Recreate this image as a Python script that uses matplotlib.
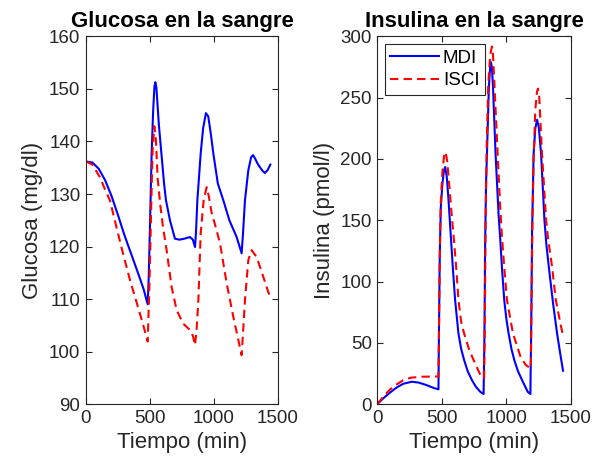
import matplotlib
matplotlib.use('Agg')
import matplotlib.pyplot as plt

plt.rcParams['font.family'] = ['Liberation Sans', 'DejaVu Sans']

# Glucose, MDI (blue)
t_glu_mdi = [0, 50, 100, 150, 200, 250, 300, 350, 400, 450, 482, 490, 500, 513, 525,
             535, 542, 550, 570, 590, 610, 625, 656, 695, 730, 770, 812, 835, 852,
             860, 870, 878, 896, 915, 937, 955, 975, 995, 1030, 1073, 1120, 1177,
             1216, 1228, 1242, 1268, 1290, 1305, 1320, 1340, 1359, 1380, 1398, 1420, 1440]
glu_mdi = [136.2, 136.0, 134.8, 132.6, 129.6, 126.0, 122.2, 118.8, 115.4, 111.9, 109.0,
           114.0, 124.0, 137.7, 146.0, 150.5, 151.3, 150.3, 143.0, 137.5, 132.0, 128.8,
           125.0, 121.5, 121.3, 121.5, 121.8, 121.3, 119.9, 123.0, 128.8, 131.5, 137.7,
           142.5, 145.4, 144.8, 141.5, 137.7, 132.0, 128.8, 125.0, 121.8, 118.7, 123.0,
           128.8, 134.5, 137.0, 137.4, 136.8, 135.8, 135.1, 134.4, 134.0, 134.6, 135.6]

# Glucose, ISCI (red)
t_glu_isci = [0, 50, 109, 150, 187, 230, 290, 344, 400, 450, 482, 495, 510, 520, 534,
              545, 560, 580, 600, 630, 669, 708, 760, 812, 835, 852, 865, 878, 896,
              920, 943, 960, 981, 1010, 1047, 1099, 1151, 1190, 1216, 1228, 1242,
              1268, 1294, 1333, 1372, 1411, 1440]
glu_isci = [136.2, 135.6, 133.2, 130.8, 128.8, 124.5, 118.6, 113.6, 109.0, 104.8, 101.9,
            112.0, 128.0, 138.0, 142.9, 141.0, 133.0, 128.0, 124.0, 119.3, 112.3, 107.9,
            105.3, 104.1, 103.0, 101.2, 104.5, 109.8, 122.5, 129.0, 131.3, 129.5, 126.5,
            124.0, 120.6, 113.0, 106.6, 102.2, 99.3, 104.0, 109.8, 117.4, 119.3, 118.0,
            115.2, 112.3, 110.2]

# Insulin, MDI (blue)
t_ins_mdi = [0, 50, 100, 150, 200, 267, 320, 380, 440, 474, 478, 484, 492, 505, 516, 526,
             538, 551, 565, 585, 603, 629, 650, 673, 700, 733, 765, 798, 824, 830, 836,
             843, 850, 865, 875, 881, 889, 897, 917, 940, 953, 966, 984, 1000, 1018,
             1040, 1062, 1090, 1122, 1166, 1187, 1193, 1200, 1212, 1225, 1239, 1252,
             1270, 1296, 1311, 1334, 1363, 1394, 1420, 1440]
ins_mdi = [0, 5.0, 9.5, 13.5, 16.5, 18.2, 17.5, 15.5, 13.0, 12.0, 60, 120, 160, 180, 190,
           193.5, 186, 168, 145, 112, 85, 57.6, 45, 35.9, 27, 19.6, 14, 10.0, 8.2, 50,
           130, 180, 204, 258.7, 275, 279, 274, 258.7, 204, 155, 135, 112, 85, 70, 57.6,
           45, 35.9, 27, 19.6, 10.0, 8.2, 60, 140, 204, 225, 232, 226, 204, 150, 130,
           108, 82, 57.6, 40, 27.2]

# Insulin, ISCI (red)
t_ins_isci = [0, 50, 100, 150, 200, 260, 350, 474, 478, 484, 492, 505, 518, 530, 542,
              559, 580, 590, 611, 629, 650, 673, 710, 746, 798, 811, 828, 834, 840,
              848, 860, 875, 889, 897, 909, 933, 953, 966, 984, 1005, 1052, 1109, 1150,
              1190, 1196, 1203, 1212, 1225, 1238, 1246, 1256, 1277, 1309, 1324, 1355,
              1384, 1425, 1440]
ins_isci = [0, 6.5, 12.0, 16.0, 19.4, 21.5, 22.3, 22.5, 60, 120, 165, 190, 203, 205.7, 198,
            177, 150, 139, 112, 85, 67, 57.6, 45, 36, 24, 22, 21, 70, 150, 210, 260, 285,
            291.8, 285, 258.7, 204, 160, 137, 112, 85, 57.6, 39, 32, 29, 80, 150, 200,
            240, 255, 257.4, 250, 204, 150, 135, 112, 85, 63, 56]

dark = '#262626'
fig = plt.figure(figsize=(6.05, 4.66), dpi=100)
ax1 = fig.add_axes([0.1421, 0.133, 0.3174, 0.7887])
ax2 = fig.add_axes([0.6237, 0.133, 0.3197, 0.7887])

dash = (0, (4, 2.5))
ax1.plot(t_glu_mdi, glu_mdi, color='blue', lw=1.5, label='MDI')
ax1.plot(t_glu_isci, glu_isci, color='red', lw=1.5, ls=dash, label='ISCI')
ax1.set_xlim(0, 1500)
ax1.set_ylim(90, 160)
ax1.set_xticks([0, 500, 1000, 1500])
ax1.set_yticks(range(90, 161, 10))
ax1.set_xlabel('Tiempo (min)', fontsize=16, color=dark)
ax1.set_ylabel('Glucosa (mg/dl)', fontsize=16, color=dark)
ax1.set_title('Glucosa en la sangre', fontsize=16, fontweight='bold', pad=7)

ax2.plot(t_ins_mdi, ins_mdi, color='blue', lw=1.5, label='MDI')
ax2.plot(t_ins_isci, ins_isci, color='red', lw=1.5, ls=dash, label='ISCI')
ax2.set_xlim(0, 1500)
ax2.set_ylim(0, 300)
ax2.set_xticks([0, 500, 1000, 1500])
ax2.set_yticks(range(0, 301, 50))
ax2.set_xlabel('Tiempo (min)', fontsize=16, color=dark)
ax2.set_ylabel('Insulina (pmol/l)', fontsize=16, color=dark)
ax2.set_title('Insulina en la sangre', fontsize=16, fontweight='bold', pad=7)
leg = ax2.legend(loc='upper left', fontsize=13.5, fancybox=False, framealpha=1,
                 edgecolor=dark, handlelength=2.6, borderaxespad=0.4,
                 handletextpad=0.2, labelspacing=0.3, borderpad=0.3)
leg.get_frame().set_linewidth(0.8)

for ax in (ax1, ax2):
    ax.tick_params(direction='in', top=True, right=True, length=4, width=0.8,
                   labelsize=13.5, colors=dark, pad=4)
    for sp in ax.spines.values():
        sp.set_color(dark)
        sp.set_linewidth(0.8)

fig.savefig('out.png', dpi=100)
